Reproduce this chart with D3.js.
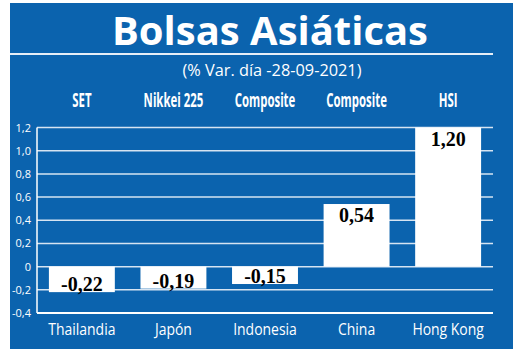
<!doctype html>
<html>
  <head>
    <meta charset="utf-8">
    <script src="https://cdn.jsdelivr.net/npm/d3@7"></script>
    <style>
      body { margin: 0; background: #fff; }
      .grid line { stroke: #d6e4f2; stroke-width: 1.5; }
      .yaxis text { fill: #fff; font-family: "Open Sans", sans-serif; font-size: 11px; }
    </style>
  </head>
  <body>
    <div id="chart"></div>
    <script>
      // data
      var countries = ["Thailandia", "Japón", "Indonesia", "China", "Hong Kong"];
      var indices = ["SET", "Nikkei 225", "Composite", "Composite", "HSI"];
      var values = [-0.22, -0.19, -0.15, 0.54, 1.20];
      var yTicks = [-0.4, -0.2, 0, 0.2, 0.4, 0.6, 0.8, 1.0, 1.2];
      var title = "Bolsas Asiáticas";
      var subtitle = "(% Var. día -28-09-2021)";

      var W = 520, H = 354;
      var blue = "#0b63ae";

      var svg = d3.select("#chart").append("svg")
        .attr("width", W)
        .attr("height", H);

      // squeeze text horizontally (no condensed fonts installed)
      function squeeze(sel, k) {
        sel.each(function() {
          var w = this.getComputedTextLength();
          d3.select(this).attr("textLength", w * k).attr("lengthAdjust", "spacingAndGlyphs");
        });
      }

      // blue panel
      svg.append("rect")
        .attr("x", 10).attr("y", 3)
        .attr("width", 503).attr("height", 346)
        .attr("fill", blue);

      // title + rule + subtitle
      svg.append("text")
        .attr("x", 270).attr("y", 45)
        .attr("text-anchor", "middle")
        .attr("textLength", 316)
        .attr("lengthAdjust", "spacingAndGlyphs")
        .style("font-family", "'Open Sans', sans-serif")
        .style("font-weight", "bold")
        .style("font-size", "40px")
        .style("fill", "#fff")
        .text(title);

      svg.append("line")
        .attr("x1", 10).attr("x2", 493)
        .attr("y1", 54).attr("y2", 54)
        .attr("stroke", "#e6eef7").attr("stroke-width", 2);

      svg.append("text")
        .attr("x", 272).attr("y", 76)
        .attr("text-anchor", "middle")
        .attr("textLength", 179)
        .attr("lengthAdjust", "spacingAndGlyphs")
        .style("font-family", "'Open Sans', sans-serif")
        .style("font-size", "16px")
        .style("fill", "#fff")
        .text(subtitle);

      // scales
      var x = d3.scaleBand()
        .domain(countries)
        .range([37, 493])
        .paddingInner(0.28)
        .paddingOuter(0.13);

      var y = d3.scaleLinear()
        .domain([-0.4, 1.2])
        .range([313, 127.5]);

      var loc = d3.formatLocale({decimal: ",", thousands: ".", grouping: [3], currency: ["", "€"], minus: "-"});
      var f1 = loc.format(".1f"), f2 = loc.format(".2f");

      // gridlines
      svg.append("g")
        .attr("class", "grid")
        .selectAll("line")
        .data(yTicks.filter(function(d) { return d > -0.4; }))
        .enter().append("line")
          .attr("x1", 37).attr("x2", 493)
          .attr("y1", function(d) { return y(d); })
          .attr("y2", function(d) { return y(d); });

      // y axis labels
      svg.append("g")
        .attr("class", "yaxis")
        .attr("transform", "translate(37,0)")
        .call(d3.axisLeft(y).tickValues(yTicks).tickSize(0).tickPadding(6)
          .tickFormat(function(d) { return d === 0 ? "0" : f1(d); }))
        .call(function(g) { g.select(".domain").remove(); });

      // axis lines
      svg.append("line")
        .attr("x1", 37).attr("x2", 37)
        .attr("y1", y(1.2)).attr("y2", y(-0.4))
        .attr("stroke", "#fff").attr("stroke-width", 1.5);
      svg.append("line")
        .attr("x1", 37).attr("x2", 493)
        .attr("y1", y(-0.4)).attr("y2", y(-0.4))
        .attr("stroke", "#fff").attr("stroke-width", 2);

      // bars
      svg.selectAll(".bar")
        .data(values)
        .enter().append("rect")
          .attr("class", "bar")
          .attr("x", function(d, i) { return x(countries[i]); })
          .attr("width", x.bandwidth())
          .attr("y", function(d) { return y(Math.max(0, d)); })
          .attr("height", function(d) { return Math.abs(y(d) - y(0)); })
          .attr("fill", "#fff");

      // value labels
      svg.selectAll(".val")
        .data(values)
        .enter().append("text")
          .attr("class", "val")
          .attr("x", function(d, i) { return x(countries[i]) + x.bandwidth() / 2; })
          .attr("y", function(d) { return d >= 0 ? y(d) + 18 : y(d) - 1; })
          .attr("text-anchor", "middle")
          .style("font-family", "'Liberation Serif', serif")
          .style("font-weight", "bold")
          .style("font-size", "20px")
          .style("fill", "#000")
          .text(function(d) { return f2(d); });

      // index names on top
      svg.selectAll(".idx")
        .data(indices)
        .enter().append("text")
          .attr("class", "idx")
          .attr("x", function(d, i) { return x(countries[i]) + x.bandwidth() / 2; })
          .attr("y", 107)
          .attr("text-anchor", "middle")
          .style("font-family", "'Open Sans', sans-serif")
          .style("font-weight", "bold")
          .style("font-size", "19px")
          .style("fill", "#fff")
          .text(function(d) { return d; })
          .call(squeeze, 0.6);

      // country names at bottom
      svg.selectAll(".cat")
        .data(countries)
        .enter().append("text")
          .attr("class", "cat")
          .attr("x", function(d) { return x(d) + x.bandwidth() / 2; })
          .attr("y", 335)
          .attr("text-anchor", "middle")
          .style("font-family", "'Open Sans', sans-serif")
          .style("font-size", "17px")
          .style("fill", "#fff")
          .text(function(d) { return d; })
          .call(squeeze, 0.82);
    </script>
  </body>
</html>
